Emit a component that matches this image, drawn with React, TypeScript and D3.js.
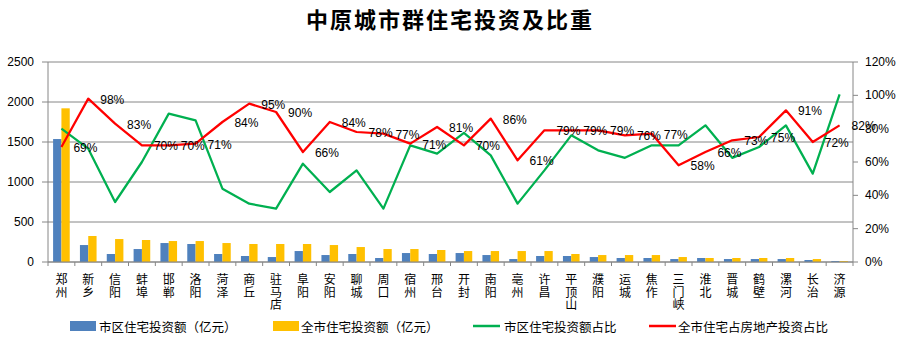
import React from 'react';
import * as d3 from 'd3';

const categories = ['郑州','新乡','信阳','蚌埠','邯郸','洛阳','菏泽','商丘','驻马店','阜阳','安阳','聊城','周口','宿州','邢台','开封','南阳','亳州','许昌','平顶山','濮阳','运城','焦作','三门峡','淮北','晋城','鹤壁','漯河','长治','济源'];
const cityInvest = [1537,212,100,162,237,225,100,75,62,137,87,100,50,112,100,112,87,37,75,75,62,50,50,37,50,37,37,37,25,12];
const totalInvest = [1921,325,287,275,262,262,237,225,225,225,212,187,162,162,150,137,137,137,137,100,87,87,87,62,50,50,50,50,37,12];
const cityShare = [0.80,0.68,0.36,0.60,0.89,0.85,0.44,0.35,0.32,0.59,0.42,0.55,0.32,0.70,0.65,0.775,0.64,0.35,0.55,0.76,0.67,0.625,0.70,0.70,0.82,0.625,0.69,0.82,0.53,1.006];
const residentialShare = [0.69,0.98,0.83,0.70,0.70,0.71,0.84,0.95,0.90,0.66,0.84,0.78,0.77,0.71,0.81,0.70,0.86,0.61,0.79,0.79,0.79,0.76,0.77,0.58,0.66,0.73,0.75,0.91,0.72,0.82];
const leftTicks = [0,500,1000,1500,2000,2500];
const rightTicks = [0,0.2,0.4,0.6,0.8,1.0,1.2];
const title = '中原城市群住宅投资及比重';
const legendLabels = ['市区住宅投资额（亿元）','全市住宅投资额（亿元）','市区住宅投资额占比','全市住宅占房地产投资占比'];

const W = 901, H = 342;
const X0 = 48, X1 = 853, Y0 = 262, Y1 = 62;
const BLUE = '#4F81BD', YELLOW = '#FFC000', GREEN = '#00B050', RED = '#FF0000', GRID = '#868686';
const NUM_FONT = '"Liberation Sans", Arial, sans-serif';
const CJK_FONT = '"Noto Sans CJK SC", sans-serif';

export default function App() {
  const x = d3.scaleBand<string>().domain(categories).range([X0, X1]).padding(0);
  const yL = d3.scaleLinear().domain([0, 2500]).range([Y0, Y1]);
  const yR = d3.scaleLinear().domain([0, 1.2]).range([Y0, Y1]);
  const bw = x.bandwidth() * 0.31;
  const cx = (c: string) => (x(c) as number) + x.bandwidth() / 2;

  const line = d3.line<number>()
    .x((_, i) => cx(categories[i]))
    .y((d) => yR(d));

  const pctFmt = d3.format('.0%');

  const legendItems = [
    { kind: 'rect', color: BLUE, x: 70, tx: 99 },
    { kind: 'rect', color: YELLOW, x: 273, tx: 301 },
    { kind: 'line', color: GREEN, x: 473, tx: 504 },
    { kind: 'line', color: RED, x: 649, tx: 678 },
  ];

  return (
    <svg width={W} height={H} style={{ position: 'absolute', left: 0, top: 0, background: '#fff' }}>
      <rect x={0} y={0} width={W} height={H} fill="#fff" />
      <text x={450} y={18} textAnchor="middle" dominantBaseline="central" fontFamily={CJK_FONT} fontWeight="bold" fontSize={22} letterSpacing={2}>{title}</text>

      {/* gridlines */}
      {leftTicks.map((t) => (
        <line key={'g' + t} x1={X0} x2={X1} y1={yL(t)} y2={yL(t)} stroke={GRID} strokeWidth={1} />
      ))}

      {/* bars */}
      {categories.map((c, i) => (
        <g key={'b' + c}>
          <rect x={cx(c) - bw} y={yL(cityInvest[i])} width={bw} height={Y0 - yL(cityInvest[i])} fill={BLUE} />
          <rect x={cx(c)} y={yL(totalInvest[i])} width={bw} height={Y0 - yL(totalInvest[i])} fill={YELLOW} />
        </g>
      ))}

      {/* axes */}
      <line x1={X0} x2={X0} y1={Y1} y2={Y0} stroke={GRID} />
      <line x1={X1} x2={X1} y1={Y1} y2={Y0} stroke={GRID} />
      <line x1={X0} x2={X1} y1={Y0} y2={Y0} stroke={GRID} />
      {leftTicks.map((t) => (
        <g key={'lt' + t}>
          <line x1={X0 - 6} x2={X0} y1={yL(t)} y2={yL(t)} stroke={GRID} />
          <text x={34} y={yL(t)} textAnchor="end" dominantBaseline="central" fontFamily={NUM_FONT} fontSize={12} fill="#000">{t}</text>
        </g>
      ))}
      {rightTicks.map((t) => (
        <g key={'rt' + t}>
          <line x1={X1} x2={X1 + 5} y1={yR(t)} y2={yR(t)} stroke={GRID} />
          <text x={865} y={yR(t)} textAnchor="start" dominantBaseline="central" fontFamily={NUM_FONT} fontSize={12} fill="#000">{pctFmt(t)}</text>
        </g>
      ))}
      {categories.concat(['']).map((c, i) => {
        const bx = X0 + i * x.bandwidth();
        return <line key={'xt' + i} x1={bx} x2={bx} y1={Y0} y2={Y0 + 4} stroke={GRID} />;
      })}
      {categories.map((c) => (
        <text key={'xl' + c} x={cx(c)} fontFamily={CJK_FONT} fontSize={12} textAnchor="middle" fill="#000">
          {Array.from(c).map((ch, k) => (
            <tspan key={k} x={cx(c)} y={284 + k * 12.5}>{ch}</tspan>
          ))}
        </text>
      ))}

      {/* lines */}
      <path d={line(cityShare) || ''} fill="none" stroke={GREEN} strokeWidth={2.25} strokeLinejoin="round" />
      <path d={line(residentialShare) || ''} fill="none" stroke={RED} strokeWidth={2.25} strokeLinejoin="round" />

      {/* data labels */}
      {residentialShare.map((v, i) => (
        <text key={'dl' + i} x={cx(categories[i]) + 12} y={yR(v) + 1} dominantBaseline="central" fontFamily={NUM_FONT} fontSize={12} fill="#000">{pctFmt(v)}</text>
      ))}

      {/* legend */}
      {legendItems.map((it, i) => (
        <g key={'lg' + i}>
          {it.kind === 'rect'
            ? <rect x={it.x} y={321} width={26} height={10} fill={it.color} />
            : <line x1={it.x} x2={it.x + 27} y1={326} y2={326} stroke={it.color} strokeWidth={2.5} />}
          <text x={it.tx} y={326} dominantBaseline="central" fontFamily={CJK_FONT} fontSize={12.5} fill="#000">{legendLabels[i]}</text>
        </g>
      ))}
    </svg>
  );
}
